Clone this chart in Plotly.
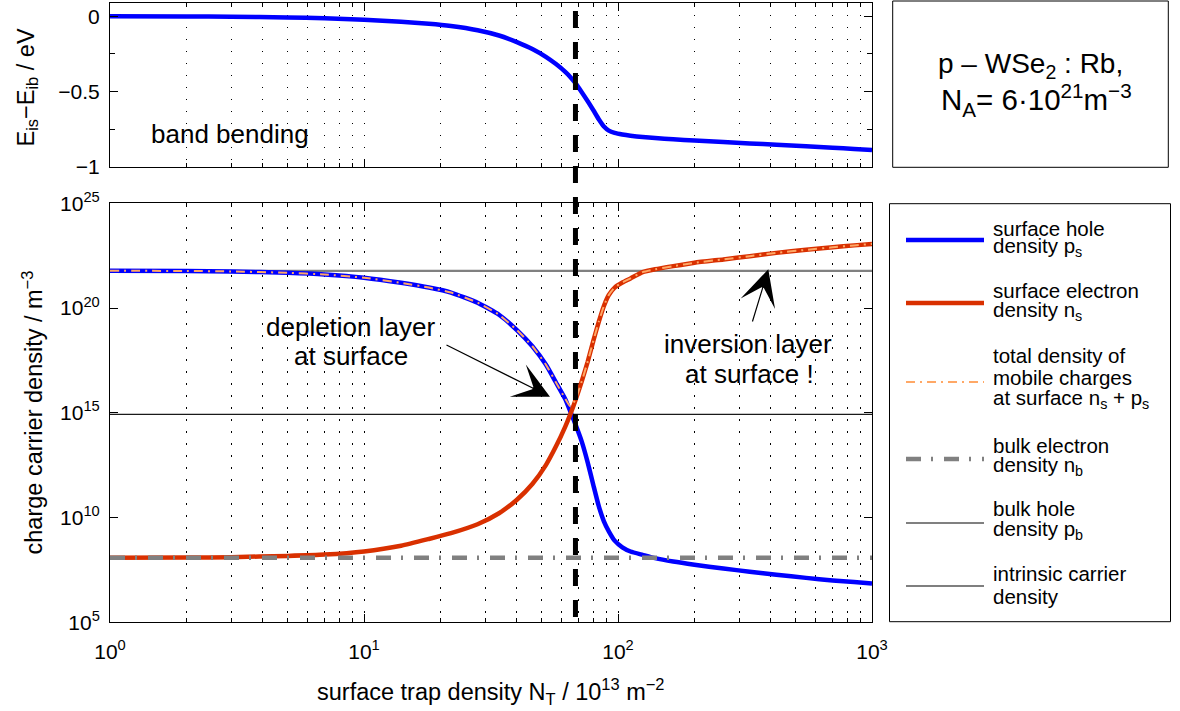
import plotly.graph_objects as go

# ---------------------------------------------------------------------------
# Surface trap density N_T (units of 1e13 m^-2) and the quantities read at it
# ---------------------------------------------------------------------------
nt = [1, 2, 3, 5, 7, 10, 14, 18, 22, 28, 34, 40, 46, 52, 57, 62, 65, 68, 72, 76,
      80, 84, 88, 92, 97, 104, 112, 125, 140, 165, 200, 260, 330, 420, 550, 700,
      850, 1000]

# band bending E_is - E_ib in eV
band_bending = [0.0, -0.001, -0.003, -0.008, -0.014, -0.024, -0.037, -0.050,
                -0.065, -0.093, -0.128, -0.172, -0.218, -0.270, -0.318, -0.370,
                -0.405, -0.445, -0.505, -0.565, -0.625, -0.685, -0.733, -0.760,
                -0.775, -0.786, -0.794, -0.803, -0.810, -0.818, -0.826, -0.836,
                -0.845, -0.854, -0.864, -0.874, -0.882, -0.889]

# surface hole density p_s in m^-3
p_surface = [6.0e21, 5.9e21, 5.6e21, 4.8e21, 4.0e21, 2.8e21, 1.6e21, 9.5e20,
             5.5e20, 1.8e20, 4.8e19, 8.9e18, 1.5e18, 2.0e17, 2.8e16, 4.5e15,
             1.1e15, 2.8e14, 4.2e13, 4.2e12, 3.5e11, 3.5e10, 6.6e9, 2.2e9,
             7.9e8, 3.8e8, 2.4e8, 1.66e8, 1.15e8, 7.9e7, 5.6e7, 3.7e7, 2.6e7,
             1.86e7, 1.32e7, 1.0e7, 8.3e6, 7.2e6]

# surface electron density n_s in m^-3
n_surface = [1.2e8, 1.23e8, 1.29e8, 1.48e8, 1.7e8, 2.4e8, 4.5e8, 9.5e8, 1.8e9,
             4.8e9, 1.6e10, 7.1e10, 4.0e11, 3.2e12, 2.5e13, 2.2e14, 8.9e14,
             4.0e15, 3.2e16, 2.8e17, 2.8e18, 2.2e19, 1.26e20, 4.2e20, 9.5e20,
             1.66e21, 2.6e21, 5.2e21, 7.1e21, 1.0e22, 1.45e22, 2.1e22, 3.0e22,
             4.3e22, 6.0e22, 7.9e22, 9.8e22, 1.15e23]

# total mobile charge density n_s + p_s in m^-3
total_surface = [6.0e21, 5.9e21, 5.6e21, 4.8e21, 4.0e21, 2.8e21, 1.6e21, 9.5e20,
                 5.5e20, 1.8e20, 4.8e19, 8.9e18, 1.5e18, 2.0e17, 2.8e16, 4.7e15,
                 2.0e15, 4.3e15, 3.2e16, 2.8e17, 2.8e18, 2.2e19, 1.26e20, 4.2e20,
                 9.5e20, 1.66e21, 2.6e21, 5.2e21, 7.1e21, 1.0e22, 1.45e22, 2.1e22,
                 3.0e22, 4.3e22, 6.0e22, 7.9e22, 9.8e22, 1.15e23]

# bulk reference levels in m^-3
p_bulk = 6.0e21
n_bulk = 1.2e8
n_intrinsic = 8.5e14
nt_span = [1, 1000]

# trap density at which the surface turns intrinsic
nt_transition = 68

# axis ticks
x_ticks = [1, 10, 100, 1000]
x_tick_text = ["10<sup>0</sup>", "10<sup>1</sup>", "10<sup>2</sup>", "10<sup>3</sup>"]
x_minor = [2, 3, 4, 5, 6, 7, 8, 9, 20, 30, 40, 50, 60, 70, 80, 90,
           200, 300, 400, 500, 600, 700, 800, 900]
dens_ticks = [1e5, 1e10, 1e15, 1e20, 1e25]
dens_tick_text = ["10<sup>5</sup>", "10<sup>10</sup>", "10<sup>15</sup>",
                  "10<sup>20</sup>", "10<sup>25</sup>"]
bb_ticks = [-1, -0.5, 0]
bb_tick_text = ["\u22121", "\u22120.5", "0"]
bb_minor = [-0.75, -0.25]

# ---------------------------------------------------------------------------
W, H = 1180, 711
FONT = "Liberation Sans, Arial, Helvetica, sans-serif"


def fx(px):
    return px / W


def fy(py):
    return 1 - py / H


BLUE = "#0000FF"
RED = "#D93000"
ORANGE = "#FFA866"
GREY = "#808080"
DOT_GRID = "1.5px,10.5px"

fig = go.Figure()

# band bending (top panel)
fig.add_trace(go.Scatter(x=nt, y=band_bending, xaxis="x2", yaxis="y2", mode="lines",
                         line=dict(color=BLUE, width=4.5, shape="spline", smoothing=0.5),
                         showlegend=False, hoverinfo="skip"))

# carrier densities (bottom panel)
fig.add_trace(go.Scatter(x=nt_span, y=[n_intrinsic, n_intrinsic], mode="lines",
                         line=dict(color="#1a1a1a", width=1.3), showlegend=False))
fig.add_trace(go.Scatter(x=nt_span, y=[p_bulk, p_bulk], mode="lines",
                         line=dict(color=GREY, width=2.2), showlegend=False))
fig.add_trace(go.Scatter(x=nt, y=p_surface, mode="lines",
                         line=dict(color=BLUE, width=4.5, shape="spline", smoothing=0.5),
                         showlegend=False))
fig.add_trace(go.Scatter(x=nt, y=n_surface, mode="lines",
                         line=dict(color=RED, width=4.5, shape="spline", smoothing=0.5),
                         showlegend=False))
fig.add_trace(go.Scatter(x=nt, y=total_surface, mode="lines",
                         line=dict(color=ORANGE, width=2, dash="9px,5px,2px,5px",
                                   shape="spline", smoothing=0.5),
                         showlegend=False))
fig.add_trace(go.Scatter(x=nt_span, y=[n_bulk, n_bulk], mode="lines",
                         line=dict(color=GREY, width=4.5, dash="15px,10px,2px,11px"),
                         showlegend=False))

# ---------------------------------------------------------------------------
x_common = dict(type="log", range=[0, 3], domain=[fx(110), fx(872)],
                showline=True, linecolor="black", linewidth=1, mirror="allticks",
                ticks="inside", ticklen=8, tickcolor="black",
                tickmode="array", tickvals=x_ticks,
                showgrid=True, gridcolor="black", gridwidth=1, griddash=DOT_GRID,
                minor=dict(tickmode="array", tickvals=x_minor, ticks="inside",
                           ticklen=4, tickcolor="black", showgrid=True,
                           gridcolor="black", gridwidth=1, griddash=DOT_GRID),
                zeroline=False, automargin=False)

fig.update_layout(
    width=W, height=H,
    margin=dict(l=0, r=0, t=0, b=0),
    paper_bgcolor="white", plot_bgcolor="white",
    font=dict(family=FONT, color="black", size=21),
    showlegend=False,
    xaxis=dict(**x_common, anchor="y", ticktext=x_tick_text,
               tickfont=dict(size=21), ticklabelstandoff=10),
    xaxis2=dict(**x_common, anchor="y2", matches="x", showticklabels=False),
    yaxis=dict(type="log", range=[5, 25], domain=[fy(622.3), fy(203.3)],
               showline=True, linecolor="black", linewidth=1, mirror="allticks",
               ticks="inside", ticklen=8, tickcolor="black",
               tickmode="array", tickvals=dens_ticks, ticktext=dens_tick_text,
               tickfont=dict(size=21), ticklabelstandoff=5,
               showgrid=False, zeroline=False, automargin=False),
    yaxis2=dict(range=[-1, 0.09], domain=[fy(166.7), fy(2.7)], anchor="x2",
                showline=True, linecolor="black", linewidth=1, mirror="allticks",
                ticks="inside", ticklen=8, tickcolor="black",
                tickmode="array", tickvals=bb_ticks, ticktext=bb_tick_text,
                minor=dict(tickmode="array", tickvals=bb_minor, ticks="inside",
                           ticklen=5, tickcolor="black", showgrid=False),
                tickfont=dict(size=21), ticklabelstandoff=5,
                showgrid=False, zeroline=False, automargin=False),
)

shapes = []
# transition marker spanning both panels
shapes.append(dict(type="line", xref="x", yref="paper",
                   x0=nt_transition, x1=nt_transition, y0=fy(617), y1=fy(2),
                   line=dict(color="black", width=5, dash="17px,14px"), layer="above"))
# material box
shapes.append(dict(type="rect", xref="paper", yref="paper",
                   x0=fx(892.7), x1=fx(1168.3), y0=fy(167.3), y1=fy(1),
                   line=dict(color="black", width=1), fillcolor="white", layer="above"))
# legend box
shapes.append(dict(type="rect", xref="paper", yref="paper",
                   x0=fx(889.5), x1=fx(1170.5), y0=fy(621.7), y1=fy(203.7),
                   line=dict(color="black", width=1), fillcolor="white", layer="below"))

# legend entries: (sample style, sample y, text lines with their y)
legend_entries = [
    (dict(color=BLUE, width=4.5), 240,
     [("surface hole", 228), ("density p<sub>s</sub>", 247)]),
    (dict(color=RED, width=4.5), 303,
     [("surface electron", 290), ("density n<sub>s</sub>", 310.5)]),
    (dict(color=ORANGE, width=2, dash="9px,5px,2px,5px"), 382,
     [("total density of", 355), ("mobile charges", 377), ("at surface n<sub>s</sub> + p<sub>s</sub>", 399.5)]),
    (dict(color=GREY, width=4.5, dash="15px,10px,2px,11px"), 459,
     [("bulk electron", 445), ("density n<sub>b</sub>", 465.5)]),
    (dict(color=GREY, width=2.2), 523,
     [("bulk hole", 508), ("density p<sub>b</sub>", 529.5)]),
    (dict(color="#555555", width=1.3), 586,
     [("intrinsic carrier", 573), ("density", 596.5)]),
]

annotations = []
for style, ly, lines in legend_entries:
    shapes.append(dict(type="line", xref="paper", yref="paper",
                       x0=fx(906), x1=fx(984), y0=fy(ly), y1=fy(ly), line=style,
                       layer="above"))
    for text, ty in lines:
        annotations.append(dict(text=text, xref="paper", yref="paper",
                                x=fx(991), y=fy(ty), xanchor="left", yanchor="middle",
                                showarrow=False, font=dict(size=20.5)))

# material description
annotations.append(dict(text="p \u2013 WSe<sub>2</sub> : Rb,", xref="paper", yref="paper",
                        x=fx(1030), y=fy(65), xanchor="center", yanchor="middle",
                        showarrow=False, font=dict(size=28)))
annotations.append(dict(text="N<sub>A</sub>= 6\u00b710<sup>21</sup>m<sup>\u22123</sup>",
                        xref="paper", yref="paper",
                        x=fx(1036), y=fy(100), xanchor="center", yanchor="middle",
                        showarrow=False, font=dict(size=29.5)))

# panel labels
annotations.append(dict(text="band bending", xref="paper", yref="paper",
                        x=fx(230), y=fy(133.5), xanchor="center", yanchor="middle",
                        showarrow=False, font=dict(size=26)))
annotations.append(dict(text="depletion layer", xref="paper", yref="paper",
                        x=fx(350.5), y=fy(327), xanchor="center", yanchor="middle",
                        showarrow=False, font=dict(size=26)))
annotations.append(dict(text="at surface", xref="paper", yref="paper",
                        x=fx(350.5), y=fy(356), xanchor="center", yanchor="middle",
                        showarrow=False, font=dict(size=26)))
annotations.append(dict(text="inversion layer", xref="paper", yref="paper",
                        x=fx(748), y=fy(344), xanchor="center", yanchor="middle",
                        showarrow=False, font=dict(size=26)))
annotations.append(dict(text="at surface !", xref="paper", yref="paper",
                        x=fx(749), y=fy(374), xanchor="center", yanchor="middle",
                        showarrow=False, font=dict(size=26)))

# arrows
annotations.append(dict(text="", xref="paper", yref="paper", x=fx(550), y=fy(396.7),
                        axref="pixel", ayref="pixel", ax=445 - 550, ay=344.3 - 396.7,
                        showarrow=True, arrowhead=3, arrowsize=5, arrowwidth=1.2,
                        arrowcolor="black", standoff=0))
annotations.append(dict(text="", xref="paper", yref="paper", x=fx(768.3), y=fy(269.3),
                        axref="pixel", ayref="pixel", ax=752 - 768.3, ay=323 - 269.3,
                        showarrow=True, arrowhead=3, arrowsize=5, arrowwidth=1.2,
                        arrowcolor="black", standoff=0))

# axis titles
annotations.append(dict(text="E<sub>is</sub>\u2212E<sub>ib</sub> / eV", xref="paper",
                        yref="paper", x=fx(27), y=fy(87.5), xanchor="center",
                        yanchor="middle", textangle=-90, showarrow=False,
                        font=dict(size=23.5)))
annotations.append(dict(text="charge carrier density / m<sup>\u22123</sup>", xref="paper",
                        yref="paper", x=fx(32), y=fy(412.5), xanchor="center",
                        yanchor="middle", textangle=-90, showarrow=False,
                        font=dict(size=23.5)))
annotations.append(dict(text="surface trap density N<sub>T</sub> / 10<sup>13</sup> m<sup>\u22122</sup>",
                        xref="paper", yref="paper", x=fx(491), y=fy(691),
                        xanchor="center", yanchor="middle", showarrow=False,
                        font=dict(size=23.5)))

fig.update_layout(shapes=shapes, annotations=annotations)

fig.write_html("out.html")
